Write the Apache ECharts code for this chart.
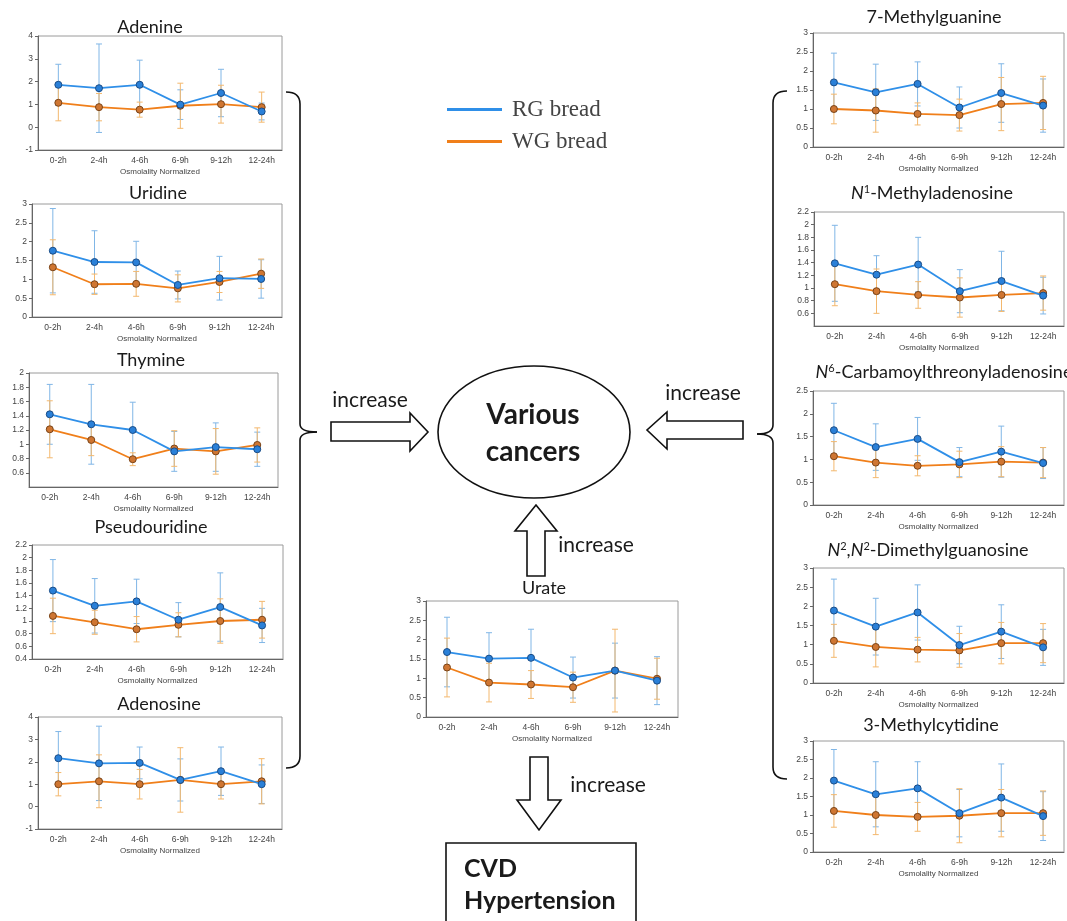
<!DOCTYPE html>
<html><head><meta charset="utf-8">
<script src="https://cdn.jsdelivr.net/npm/echarts@6/dist/echarts.min.js"></script>
<style>html,body{margin:0;padding:0;background:#fff}#c{width:1067px;height:921px}</style>
</head><body><div id="c"></div>
<script>
const hours = ['0-2h','2-4h','4-6h','6-9h','9-12h','12-24h'];
const seriesNames = ['RG bread','WG bread'];
const xAxisName = 'Osmolality Normalized';

const adenineRG = [1.86,1.71,1.86,0.99,1.50,0.69];
const adenineRGerr = [0.90,1.94,1.08,0.65,1.04,0.37];
const adenineWG = [1.07,0.88,0.77,0.94,1.01,0.88];
const adenineWGerr = [0.79,0.60,0.33,0.99,0.83,0.66];

const uridineRG = [1.76,1.46,1.45,0.85,1.03,1.01];
const uridineRGerr = [1.12,0.83,0.56,0.37,0.58,0.51];
const uridineWG = [1.32,0.87,0.88,0.76,0.93,1.15];
const uridineWGerr = [0.73,0.27,0.33,0.36,0.28,0.39];

const thymineRG = [1.42,1.28,1.20,0.90,0.96,0.93];
const thymineRGerr = [0.42,0.56,0.39,0.28,0.34,0.24];
const thymineWG = [1.21,1.06,0.79,0.94,0.90,0.99];
const thymineWGerr = [0.40,0.22,0.09,0.25,0.32,0.24];

const pseudouridineRG = [1.48,1.24,1.31,1.02,1.22,0.93];
const pseudouridineRGerr = [0.49,0.43,0.35,0.27,0.54,0.27];
const pseudouridineWG = [1.08,0.98,0.87,0.94,1.00,1.02];
const pseudouridineWGerr = [0.28,0.19,0.20,0.19,0.35,0.29];

const adenosineRG = [2.16,1.93,1.95,1.19,1.58,1.00];
const adenosineRGerr = [1.19,1.66,0.71,0.94,1.08,0.86];
const adenosineWG = [1.00,1.13,1.00,1.19,1.00,1.13];
const adenosineWGerr = [0.52,1.18,0.66,1.44,0.66,1.01];

const methylguanineRG = [1.70,1.44,1.66,1.04,1.42,1.09];
const methylguanineRGerr = [0.77,0.74,0.58,0.54,0.77,0.70];
const methylguanineWG = [1.00,0.96,0.87,0.84,1.13,1.16];
const methylguanineWGerr = [0.39,0.57,0.29,0.42,0.70,0.70];

const m1aRG = [1.39,1.21,1.37,0.95,1.11,0.88];
const m1aRGerr = [0.60,0.30,0.43,0.34,0.47,0.29];
const m1aWG = [1.06,0.95,0.89,0.85,0.89,0.92];
const m1aWGerr = [0.34,0.35,0.21,0.31,0.26,0.27];

const t6aRG = [1.64,1.27,1.45,0.94,1.17,0.92];
const t6aRGerr = [0.59,0.51,0.47,0.32,0.56,0.34];
const t6aWG = [1.07,0.93,0.86,0.89,0.95,0.93];
const t6aWGerr = [0.32,0.33,0.22,0.29,0.33,0.33];

const m22gRG = [1.89,1.47,1.84,0.99,1.34,0.93];
const m22gRGerr = [0.82,0.74,0.72,0.49,0.70,0.47];
const m22gWG = [1.10,0.94,0.87,0.85,1.04,1.04];
const m22gWGerr = [0.43,0.52,0.32,0.44,0.54,0.51];

const m3cRG = [1.93,1.56,1.72,1.05,1.47,0.97];
const m3cRGerr = [0.84,0.88,0.72,0.64,0.91,0.66];
const m3cWG = [1.11,1.00,0.95,0.98,1.05,1.05];
const m3cWGerr = [0.44,0.53,0.39,0.73,0.64,0.60];

const urateRG = [1.68,1.51,1.53,1.02,1.20,0.94];
const urateRGerr = [0.90,0.67,0.74,0.53,0.71,0.62];
const urateWG = [1.28,0.89,0.84,0.77,1.20,0.99];
const urateWGerr = [0.76,0.50,0.36,0.39,1.07,0.53];

const panels = [
  {title:'{n|Adenine}', rg:adenineRG, rgErr:adenineRGerr, wg:adenineWG, wgErr:adenineWGerr, yMin:-1, yMax:4, yStep:1, box:[38,36,244,114], t:[150,27]},
  {title:'{n|Uridine}', rg:uridineRG, rgErr:uridineRGerr, wg:uridineWG, wgErr:uridineWGerr, yMin:0, yMax:3, yStep:0.5, box:[32,204,250,113], t:[158,193]},
  {title:'{n|Thymine}', rg:thymineRG, rgErr:thymineRGerr, wg:thymineWG, wgErr:thymineWGerr, yMin:0.4, yMax:2, yStep:0.2, hideMin:true, box:[29,373,249,114], t:[151,360]},
  {title:'{n|Pseudouridine}', rg:pseudouridineRG, rgErr:pseudouridineRGerr, wg:pseudouridineWG, wgErr:pseudouridineWGerr, yMin:0.4, yMax:2.2, yStep:0.2, box:[32,545,251,114], t:[151,527]},
  {title:'{n|Adenosine}', rg:adenosineRG, rgErr:adenosineRGerr, wg:adenosineWG, wgErr:adenosineWGerr, yMin:-1, yMax:4, yStep:1, box:[38,717,244,112], t:[159,704]},
  {title:'{n|7-Methylguanine}', rg:methylguanineRG, rgErr:methylguanineRGerr, wg:methylguanineWG, wgErr:methylguanineWGerr, yMin:0, yMax:3, yStep:0.5, box:[813,33,251,114], t:[934,17]},
  {title:'{it|N}{sup|1}{n|-Methyladenosine}', rg:m1aRG, rgErr:m1aRGerr, wg:m1aWG, wgErr:m1aWGerr, yMin:0.4, yMax:2.2, yStep:0.2, hideMin:true, box:[814,212,250,114], t:[932,193]},
  {title:'{it|N}{sup|6}{n|-Carbamoylthreonyladenosine}', rg:t6aRG, rgErr:t6aRGerr, wg:t6aWG, wgErr:t6aWGerr, yMin:0, yMax:2.5, yStep:0.5, box:[813,391,251,114], t:[944,372]},
  {title:'{it|N}{sup|2}{n|,}{it|N}{sup|2}{n|-Dimethylguanosine}', rg:m22gRG, rgErr:m22gRGerr, wg:m22gWG, wgErr:m22gWGerr, yMin:0, yMax:3, yStep:0.5, box:[813,568,251,115], t:[928,550]},
  {title:'{n|3-Methylcytidine}', rg:m3cRG, rgErr:m3cRGerr, wg:m3cWG, wgErr:m3cWGerr, yMin:0, yMax:3, yStep:0.5, box:[813,741,251,111], t:[931,725]},
  {title:'{n|Urate}', rg:urateRG, rgErr:urateRGerr, wg:urateWG, wgErr:urateWGerr, yMin:0, yMax:3, yStep:0.5, box:[426,601,252,116], t:[544,588]}
];

const C = {
  rgLine:'#2F8FE8', rgFill:'#2A80D8', rgBorder:'#1A4C86', rgErr:'#80B6E6',
  wgLine:'#F07F1A', wgFill:'#CF7632', wgBorder:'#7A4418', wgErr:'#F3B86E'
};
const titleFont = 'Lato';
const axisFont = 'Liberation Sans';
const ink = '#1a1a1a';

function errRender(color){
  return function(params, api){
    const i = api.value(0);
    const lo = api.coord([i, api.value(1)]);
    const hi = api.coord([i, api.value(2)]);
    const w = 3;
    const st = {stroke: color, lineWidth: 1};
    return {type:'group', children:[
      {type:'line', shape:{x1:lo[0],y1:lo[1],x2:hi[0],y2:hi[1]}, style:st},
      {type:'line', shape:{x1:lo[0]-w,y1:lo[1],x2:lo[0]+w,y2:lo[1]}, style:st},
      {type:'line', shape:{x1:hi[0]-w,y1:hi[1],x2:hi[0]+w,y2:hi[1]}, style:st}
    ]};
  };
}

const grid = [], xAxis = [], yAxis = [], series = [], graphic = [];
const rich = {
  n:{fontFamily:titleFont, fontSize:18, fill:ink},
  it:{fontFamily:titleFont, fontSize:18, fontStyle:'italic', fill:ink},
  sup:{fontFamily:titleFont, fontSize:11, fill:ink, verticalAlign:'top'}
};

panels.forEach((p, i) => {
  grid.push({left:p.box[0], top:p.box[1], width:p.box[2], height:p.box[3], show:true, borderColor:'#9a9a9a', borderWidth:1});
  xAxis.push({gridIndex:i, type:'category', data:hours, boundaryGap:true,
    name:xAxisName, nameLocation:'middle', nameGap:18,
    nameTextStyle:{fontFamily:axisFont, fontSize:8, color:'#444'},
    axisLine:{onZero:false, lineStyle:{color:'#666', width:1}},
    axisTick:{alignWithLabel:true, length:3, lineStyle:{color:'#666'}},
    axisLabel:{fontFamily:axisFont, fontSize:8.5, color:'#444', margin:6, interval:0},
    splitLine:{show:false}});
  yAxis.push({gridIndex:i, type:'value', min:p.yMin, max:p.yMax, interval:p.yStep,
    axisLine:{show:true, onZero:false, lineStyle:{color:'#666', width:1}},
    axisTick:{show:true, length:3, lineStyle:{color:'#666'}},
    axisLabel:{fontFamily:axisFont, fontSize:8.5, color:'#444', margin:5, showMinLabel:!p.hideMin},
    splitLine:{show:false}});
  const mk = (m, e) => m.map((v, k) => [k, +(v - e[k]).toFixed(3), +(v + e[k]).toFixed(3)]);
  series.push({type:'custom', xAxisIndex:i, yAxisIndex:i, renderItem:errRender(C.rgErr), data:mk(p.rg, p.rgErr), encode:{x:0, y:[1,2]}, z:1, silent:true});
  series.push({type:'custom', xAxisIndex:i, yAxisIndex:i, renderItem:errRender(C.wgErr), data:mk(p.wg, p.wgErr), encode:{x:0, y:[1,2]}, z:1, silent:true});
  series.push({type:'line', name:seriesNames[1], xAxisIndex:i, yAxisIndex:i, data:p.wg, symbol:'circle', symbolSize:7, z:3,
    lineStyle:{color:C.wgLine, width:1.8}, itemStyle:{color:C.wgFill, borderColor:C.wgBorder, borderWidth:1}});
  series.push({type:'line', name:seriesNames[0], xAxisIndex:i, yAxisIndex:i, data:p.rg, symbol:'circle', symbolSize:7, z:4,
    lineStyle:{color:C.rgLine, width:1.8}, itemStyle:{color:C.rgFill, borderColor:C.rgBorder, borderWidth:1}});
  graphic.push({type:'text', x:p.t[0], y:p.t[1], style:{text:p.title, rich:rich, align:'center', verticalAlign:'middle', fontFamily:titleFont, fontSize:18, fill:ink}});
});

const strokeSt = {stroke:'#111', lineWidth:1.6, fill:null};
const shapeSt = {stroke:'#111', lineWidth:1.6, fill:'#fff'};
// braces
graphic.push(
  {type:'bezierCurve', shape:{x1:286,y1:92,cpx1:300,cpy1:92,x2:300,y2:104}, style:strokeSt},
  {type:'line', shape:{x1:300,y1:104,x2:300,y2:424}, style:strokeSt},
  {type:'bezierCurve', shape:{x1:300,y1:424,cpx1:300,cpy1:432,x2:317,y2:432}, style:strokeSt},
  {type:'bezierCurve', shape:{x1:317,y1:432,cpx1:300,cpy1:432,x2:300,y2:440}, style:strokeSt},
  {type:'line', shape:{x1:300,y1:440,x2:300,y2:756}, style:strokeSt},
  {type:'bezierCurve', shape:{x1:300,y1:756,cpx1:300,cpy1:768,x2:286,y2:768}, style:strokeSt},

  {type:'bezierCurve', shape:{x1:787,y1:91,cpx1:773,cpy1:91,x2:773,y2:103}, style:strokeSt},
  {type:'line', shape:{x1:773,y1:103,x2:773,y2:425}, style:strokeSt},
  {type:'bezierCurve', shape:{x1:773,y1:425,cpx1:773,cpy1:434,x2:757,y2:434}, style:strokeSt},
  {type:'bezierCurve', shape:{x1:757,y1:434,cpx1:773,cpy1:434,x2:773,y2:443}, style:strokeSt},
  {type:'line', shape:{x1:773,y1:443,x2:773,y2:767}, style:strokeSt},
  {type:'bezierCurve', shape:{x1:773,y1:767,cpx1:773,cpy1:779,x2:787,y2:779}, style:strokeSt}
);
// arrows
graphic.push(
  {type:'polygon', shape:{points:[[331,422],[410,422],[410,413],[428,432],[410,451],[410,441],[331,441]]}, style:shapeSt},
  {type:'polygon', shape:{points:[[743,421],[667,421],[667,412],[647,430],[667,449],[667,439],[743,439]]}, style:shapeSt},
  {type:'polygon', shape:{points:[[536,505],[557,531],[545,531],[545,576],[527,576],[527,531],[515,531]]}, style:shapeSt},
  {type:'polygon', shape:{points:[[530,757],[548,757],[548,800],[561,800],[539,830],[517,800],[530,800]]}, style:shapeSt},
  {type:'ellipse', shape:{cx:534, cy:432, rx:96, ry:66}, style:shapeSt},
  {type:'rect', shape:{x:446, y:843, width:190, height:95}, style:shapeSt}
);
const lbl = (text, x, y, size, weight, align) => ({type:'text', x:x, y:y, style:{text:text, fontFamily:titleFont, fontSize:size, fontWeight:weight||'normal', fill:ink, align:align||'center', verticalAlign:'middle'}});
graphic.push(
  lbl('increase', 370, 400, 21),
  lbl('increase', 703, 393, 21),
  lbl('increase', 596, 545, 21),
  lbl('increase', 608, 785, 21),
  lbl('Various', 533, 415, 28, 'bold'),
  lbl('cancers', 533, 452, 28, 'bold'),
  lbl('CVD', 464, 869, 25, 'bold', 'left'),
  lbl('Hypertension', 464, 901, 25, 'bold', 'left')
);

const chart = echarts.init(document.getElementById('c'), null, {renderer:'canvas'});
chart.setOption({
  animation:false,
  backgroundColor:'#fff',
  legend:{
    data:[{name:seriesNames[0], itemStyle:{color:C.rgLine}}, {name:seriesNames[1], itemStyle:{color:C.wgLine}}],
    orient:'vertical', left:447, top:98, padding:0, itemGap:9,
    icon:'rect', itemWidth:55, itemHeight:3, selectedMode:false,
    itemStyle:{borderWidth:0},
    formatter:'{a|{name}}',
    textStyle:{fontFamily:'Liberation Serif', fontSize:23, color:'#444',
      rich:{a:{fontFamily:'Liberation Serif', fontSize:23, color:'#444', padding:[0,0,0,5]}}}
  },
  grid:grid, xAxis:xAxis, yAxis:yAxis, series:series, graphic:graphic
});
</script>
</body></html>
